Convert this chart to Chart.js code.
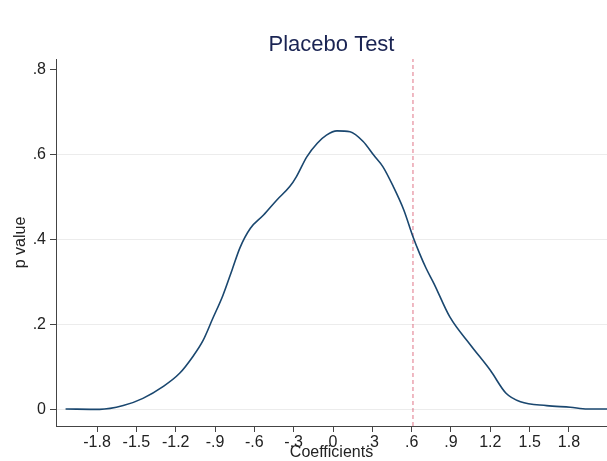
<!DOCTYPE html>
<html lang="en">
<head>
  <meta charset="UTF-8" />
  <title>Placebo Test</title>
  <script src="https://cdn.jsdelivr.net/npm/chart.js"></script>
  <style>
    body { margin: 0; background: #fff; }
    #wrap { width: 607px; height: 461px; }
  </style>
</head>
<body>
  <div id="wrap"><canvas id="placeboChart" width="607" height="461"></canvas></div>

  <script>
    // kernel density of the placebo coefficients
    const coefX = [-2.04, -1.78, -1.60, -1.45, -1.30, -1.17, -1.07, -0.99, -0.92, -0.84,
                   -0.77, -0.71, -0.63, -0.53, -0.43, -0.33, -0.28, -0.20, -0.12, -0.05,
                    0.03,  0.13,  0.23,  0.31,  0.38,  0.46,  0.54,  0.61,  0.66,  0.71,
                    0.77,  0.89,  1.05,  1.20,  1.32,  1.43,  1.63,  1.81,  1.94,  2.09];
    const density = [0.001, 0.000, 0.009, 0.026, 0.053, 0.085, 0.124, 0.163, 0.212, 0.268,
                     0.328, 0.380, 0.426, 0.457, 0.492, 0.524, 0.547, 0.594, 0.626, 0.645,
                     0.655, 0.653, 0.630, 0.598, 0.571, 0.524, 0.469, 0.406, 0.367, 0.332,
                     0.296, 0.218, 0.151, 0.092, 0.038, 0.018, 0.009, 0.005, 0.001, 0.001];

    // true coefficient (vertical reference line)
    const trueCoef = 0.61;

    const xTicks = [-1.8, -1.5, -1.2, -0.9, -0.6, -0.3, 0, 0.3, 0.6, 0.9, 1.2, 1.5, 1.8];
    const yTicks = [0, 0.2, 0.4, 0.6, 0.8];
    const xRange = [-2.113, 2.09];
    const yRange = [-0.039, 0.824];

    // Stata style labels: ".6" instead of "0.6"
    function stataLabel(v) {
      const r = Math.round(v * 10) / 10;
      if (r === 0) return '0';
      return String(r).replace('0.', '.');
    }

    const titlePlugin = {
      id: 'stataTitle',
      afterDraw(chart) {
        const { ctx, chartArea } = chart;
        ctx.save();
        ctx.font = '22px "Liberation Sans", Arial, sans-serif';
        ctx.fillStyle = '#1a2453';
        ctx.textAlign = 'center';
        ctx.textBaseline = 'middle';
        ctx.fillText('Placebo Test', (chartArea.left + chartArea.right) / 2, 45);
        ctx.restore();
      }
    };

    const font = { family: '"Liberation Sans", Arial, sans-serif', size: 16 };

    new Chart(document.getElementById('placeboChart').getContext('2d'), {
      type: 'scatter',
      data: {
        datasets: [
          {
            data: coefX.map((x, i) => ({ x: x, y: density[i] })),
            showLine: true,
            borderColor: '#1a476f',
            borderWidth: 1.6,
            pointRadius: 0,
            cubicInterpolationMode: 'monotone',
            fill: false
          },
          {
            data: [{ x: trueCoef, y: yRange[0] }, { x: trueCoef, y: yRange[1] }],
            showLine: true,
            borderColor: 'rgba(214, 70, 95, 0.75)',
            borderWidth: 1,
            borderDash: [4, 3],
            pointRadius: 0
          }
        ]
      },
      options: {
        responsive: false,
        animation: false,
        layout: { padding: { top: 59, left: 0, right: 0, bottom: 0 } },
        plugins: {
          legend: { display: false },
          tooltip: { enabled: false }
        },
        scales: {
          x: {
            type: 'linear',
            min: xRange[0],
            max: xRange[1],
            afterBuildTicks(scale) { scale.ticks = xTicks.map(v => ({ value: v })); },
            afterFit(scale) { scale.height = 35; },
            border: { display: true, color: '#444', width: 1 },
            grid: { drawOnChartArea: false, drawTicks: true, tickLength: 6, tickColor: '#444' },
            ticks: { color: '#222', font: font, padding: 1, maxRotation: 0, autoSkip: false,
                     callback: v => stataLabel(v) },
            title: { display: true, text: 'Coefficients', color: '#222',
                     font: { family: font.family, size: 16, lineHeight: 1 }, padding: { top: 0, bottom: 0 } }
          },
          y: {
            type: 'linear',
            min: yRange[0],
            max: yRange[1],
            afterBuildTicks(scale) { scale.ticks = yTicks.map(v => ({ value: v })); },
            afterFit(scale) { scale.width = 56; },
            border: { display: true, color: '#444', width: 1 },
            grid: {
              color: ctx => (ctx.tick && ctx.tick.value === 0.8) ? 'rgba(0,0,0,0)' : '#ececec',
              tickColor: '#444',
              tickLength: 6,
              lineWidth: 1
            },
            ticks: { color: '#222', font: font, padding: 4, callback: v => stataLabel(v) },
            title: { display: true, text: 'p value', color: '#222',
                     font: { family: font.family, size: 16 }, padding: { top: 11, bottom: 0 } }
          }
        }
      },
      plugins: [titlePlugin]
    });
  </script>
</body>
</html>
